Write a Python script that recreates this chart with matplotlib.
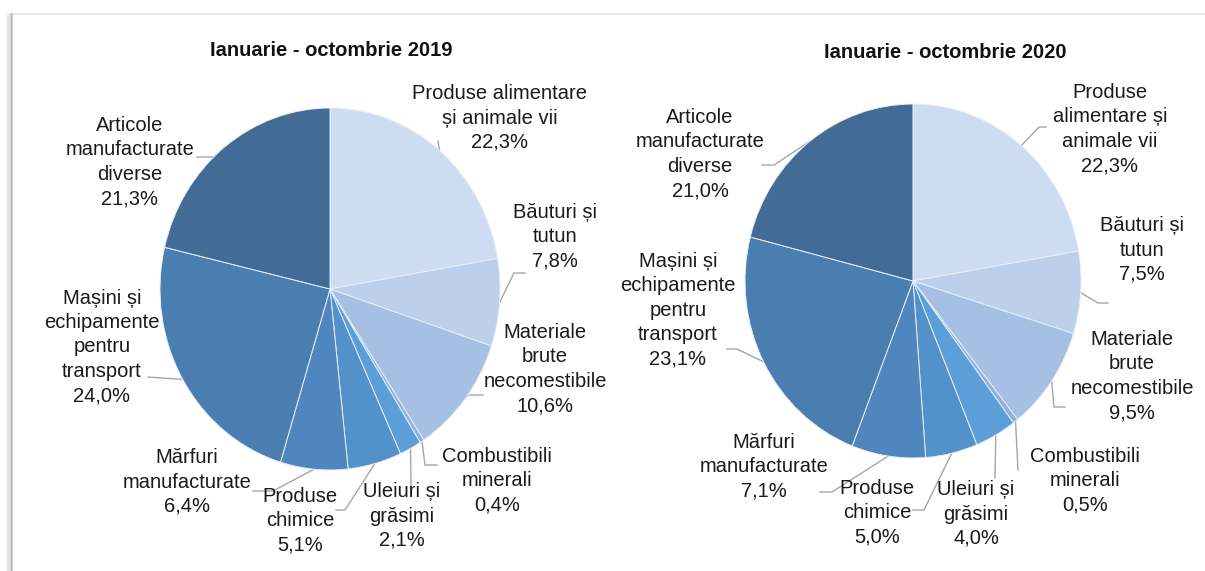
import numpy as np
import matplotlib.pyplot as plt

W, H = 1205, 571

# data
titles = ["Ianuarie - octombrie 2019", "Ianuarie - octombrie 2020"]
cats_2019 = ["Produse alimentare\nși animale vii", "Băuturi și\ntutun",
             "Materiale\nbrute\nnecomestibile", "Combustibili\nminerali",
             "Uleiuri și\ngrăsimi", "Produse\nchimice", "Mărfuri\nmanufacturate",
             "Mașini și\nechipamente\npentru\ntransport",
             "Articole\nmanufacturate\ndiverse"]
cats_2020 = ["Produse\nalimentare și\nanimale vii", "Băuturi și\ntutun",
             "Materiale\nbrute\nnecomestibile", "Combustibili\nminerali",
             "Uleiuri și\ngrăsimi", "Produse\nchimice", "Mărfuri\nmanufacturate",
             "Mașini și\nechipamente\npentru\ntransport",
             "Articole\nmanufacturate\ndiverse"]
vals_2019 = [22.3, 7.8, 10.6, 0.4, 2.1, 5.1, 6.4, 24.0, 21.3]
vals_2020 = [22.3, 7.5, 9.5, 0.5, 4.0, 5.0, 7.1, 23.1, 21.0]

colors = ["#cddcf0", "#bcd0eb", "#a6c0e3", "#8fb1dd", "#5c9ed8",
          "#5391cb", "#4f86be", "#4a7db0", "#426b96"]

# layout (pixels): pie centre/radii, label centres, leader attach + elbow
pies = [dict(c=(330, 289), r=(170, 181), title_xy=(331, 50)),
        dict(c=(913, 281), r=(168, 177), title_xy=(945, 52))]
lab_2019 = [(500, 118), (555, 237), (545, 369), (497, 481), (402, 516),
            (300, 521), (187, 482), (102, 347), (130, 162)]
lab_2020 = [(1110, 129), (1142, 250), (1132, 376), (1085, 481), (976, 514),
            (877, 513), (764, 467), (678, 310), (700, 154)]
lead_2019 = [[(438, 141)], [(525, 273), (514, 273)], [(483, 395), (468, 395)],
             [(437, 465), (425, 465)], [(411, 487)], [(336, 510), (345, 510)],
             [(253, 491), (273, 491)], [(148, 377), (176, 379)],
             [(197, 157), (214, 157)]]
lead_2020 = [[(1046, 127), (1039, 127)], [(1108, 303), (1098, 303)],
             [(1065, 407), (1054, 407)], [(1018, 470)], [(995, 478)],
             [(913, 510), (924, 510)], [(820, 492), (832, 492)],
             [(727, 349), (737, 349)], [(762, 165), (774, 165)]]

plt.rcParams['font.family'] = ['Liberation Sans', 'DejaVu Sans']

fig = plt.figure(figsize=(W / 100, H / 100), dpi=100)
bg = fig.add_axes([0, 0, 1, 1])
bg.set_xlim(0, W)
bg.set_ylim(H, 0)
bg.axis('off')

# frame of the original picture
bg.plot([10, W], [13.5, 13.5], color='#e8e8e8', lw=1.5)
bg.plot([10.5, 10.5], [13.5, H], color='#bdbdbd', lw=1.8)
bg.plot([8, 8], [16, H], color='#e4e4e4', lw=2.5)

all_data = [(cats_2019, vals_2019, lab_2019, lead_2019),
            (cats_2020, vals_2020, lab_2020, lead_2020)]

for p, t, (cats, vals, labs, leads) in zip(pies, titles, all_data):
    cx, cy = p['c']
    rx, ry = p['r']
    ax = fig.add_axes([(cx - rx) / W, 1 - (cy + ry) / H, 2 * rx / W, 2 * ry / H])
    wedges, _ = ax.pie(vals, colors=colors, startangle=90, counterclock=False,
                       radius=1, wedgeprops=dict(edgecolor='#e6eef8', linewidth=0.7))
    ax.set_aspect('auto')
    ax.set_xlim(-1, 1)
    ax.set_ylim(-1, 1)
    ax.axis('off')

    bg.text(p['title_xy'][0], p['title_xy'][1], t, ha='center', va='center',
            fontsize=14.5, fontweight='bold', color='#111111')

    for w, name, v, (tx, ty), pts in zip(wedges, cats, vals, labs, leads):
        mid = np.deg2rad((w.theta1 + w.theta2) / 2)
        disp = ax.transData.transform((np.cos(mid), np.sin(mid)))
        axp, ayp = bg.transData.inverted().transform(disp)
        xs = [q[0] for q in pts] + [axp]
        ys = [q[1] for q in pts] + [ayp]
        bg.plot(xs, ys, color='#a6a6a6', lw=1.0, zorder=1)
        label = name + "\n" + f"{v:.1f}".replace('.', ',') + "%"
        bg.text(tx, ty, label, ha='center', va='center', multialignment='center',
                fontsize=14.5, color='#1a1a1a', linespacing=1.36, zorder=3)

fig.savefig('out.png', dpi=100, facecolor='white')
